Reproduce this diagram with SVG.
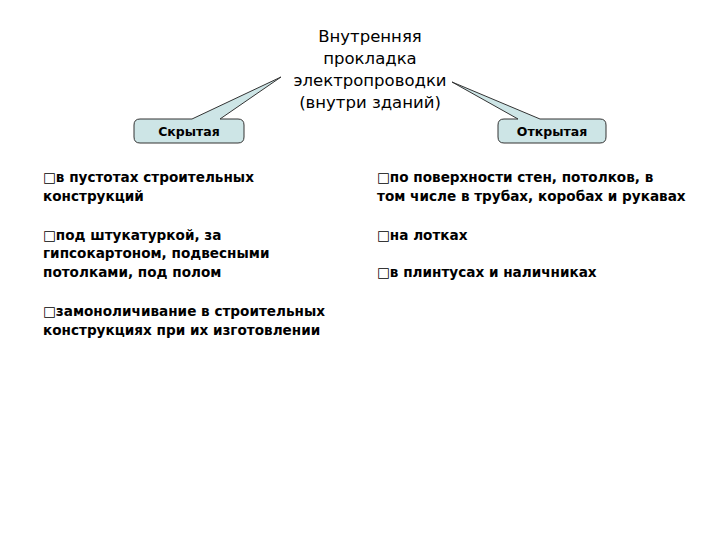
<svg xmlns="http://www.w3.org/2000/svg" width="720" height="540" viewBox="0 0 720 540">
<style>
text{font-family:"DejaVu Sans","Liberation Sans",sans-serif;font-size:14px;fill:#000}
.t{font-size:16.5px;text-anchor:middle}
.b{font-weight:bold;font-size:12.5px;text-anchor:middle}
.c{fill:#cde5e6;stroke:#333;stroke-width:1}
.i{font-weight:bold;font-size:13.6px}
</style>
<rect width="720" height="540" fill="#fff"/>
<g id="title">
<text class="t" x="370" y="42">Внутренняя</text>
<text class="t" x="370" y="64">прокладка</text>
<text class="t" x="370" y="86">электропроводки</text>
<text class="t" x="370" y="108">(внутри зданий)</text>
</g>
<g id="connectors"></g>
<g id="hidden">
<path class="c" d="M140,119 H192 L281,77 L220,119 H238 Q244,119 244,125 V137 Q244,143 238,143 H140 Q134,143 134,137 V125 Q134,119 140,119 Z"/>
<text class="b" x="189" y="136">Скрытая</text>
</g>
<g id="open">
<path class="c" d="M504,119 H518 L452,82 L540,119 H600 Q606,119 606,125 V137 Q606,143 600,143 H504 Q498,143 498,137 V125 Q498,119 504,119 Z"/>
<text class="b" x="552" y="136">Открытая</text>
</g>
<g id="left-list">
<text class="i" x="43" y="182">□в пустотах строительных</text>
<text class="i" x="43" y="201">конструкций</text>
<text class="i" x="43" y="240">□под штукатуркой, за</text>
<text class="i" x="43" y="258">гипсокартоном, подвесными</text>
<text class="i" x="43" y="277">потолками, под полом</text>
<text class="i" x="43" y="316">□замоноличивание в строительных</text>
<text class="i" x="43" y="335">конструкциях при их изготовлении</text>
</g>
<g id="right-list">
<text class="i" x="377" y="182">□по поверхности стен, потолков, в</text>
<text class="i" x="377" y="201">том числе в трубах, коробах и рукавах</text>
<text class="i" x="377" y="240">□на лотках</text>
<text class="i" x="377" y="277">□в плинтусах и наличниках</text>
</g>
</svg>
